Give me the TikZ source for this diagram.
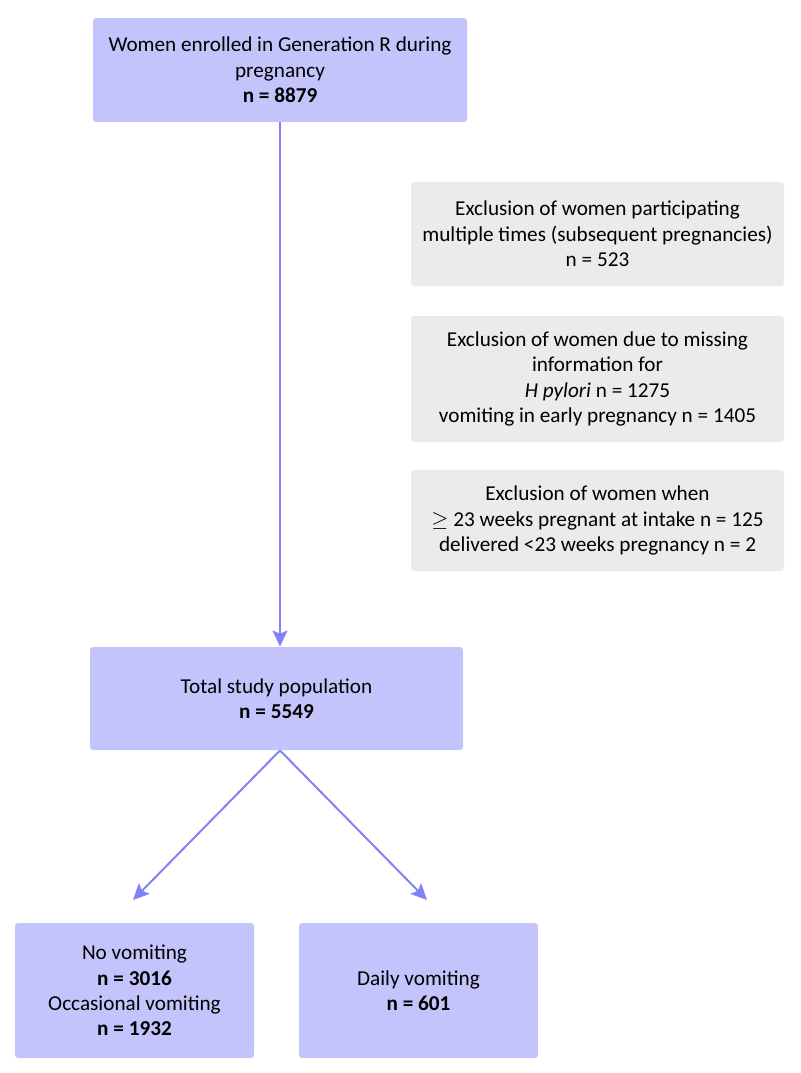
\documentclass[tikz,border=0pt]{standalone}
\usepackage{fontspec}
\setmainfont{Carlito}
\usetikzlibrary{arrows.meta}
\definecolor{boxblue}{HTML}{C4C4FC}
\definecolor{boxgrey}{HTML}{EBEBEB}
\definecolor{flowblue}{HTML}{8282F4}
\tikzset{
	studybox/.style = {fill=boxblue, rounded corners=1.5pt, align=center, inner sep=0pt, font=\fontsize{10.6pt}{12.7pt}\selectfont},
	exclbox/.style = {fill=boxgrey, rounded corners=1.5pt, align=center, inner sep=0pt, font=\fontsize{10.6pt}{12.7pt}\selectfont},
	flow/.style = {draw=flowblue, line width=1pt, -{Stealth[length=8pt, width=7.5pt, inset=1.5pt]}}
}
\begin{document}
\begin{tikzpicture}[x=0.5pt, y=-0.5pt]
		\useasboundingbox (0,0) rectangle (800,1073);
		\node[studybox, minimum width=187pt, minimum height=52pt] (enrolled) at (280,70) {Women enrolled in Generation R during\\pregnancy\\\textbf{n = 8879}};
		\node[exclbox, minimum width=186.5pt, minimum height=52pt] (multiple) at (597.5,234) {Exclusion of women participating\\multiple times (subsequent pregnancies)\\n = 523};
		\node[exclbox, minimum width=186.5pt, minimum height=63pt] (missing) at (597.5,379) {Exclusion of women due to missing\\information for\\\textit{H pylori} n = 1275\\vomiting in early pregnancy n = 1405};
		\node[exclbox, minimum width=186.5pt, minimum height=50.5pt] (weeks) at (597.5,520.5) {Exclusion of women when\\\ensuremath{\geq} 23 weeks pregnant at intake n = 125\\delivered <23 weeks pregnancy n = 2};
		\node[studybox, minimum width=186.5pt, minimum height=51.5pt] (total) at (276.5,698.5) {Total study population\\\textbf{n = 5549}};
		\node[studybox, minimum width=119.5pt, minimum height=67.5pt] (novomit) at (134.5,990.5) {No vomiting\\\textbf{n = 3016}\\Occasional vomiting\\\textbf{n = 1932}};
		\node[studybox, minimum width=119.5pt, minimum height=67.5pt] (daily) at (418.5,990.5) {Daily vomiting\\\textbf{n = 601}};
		\coordinate (split) at (enrolled.south |- total.south);
		\coordinate (noend) at (133,900);
		\coordinate (dailyend) at (427,900);
		\draw[flow] (enrolled.south) -- (enrolled.south |- total.north);
		\draw[flow] (split) -- (noend);
		\draw[flow] (split) -- (dailyend);
	\end{tikzpicture}
\end{document}
